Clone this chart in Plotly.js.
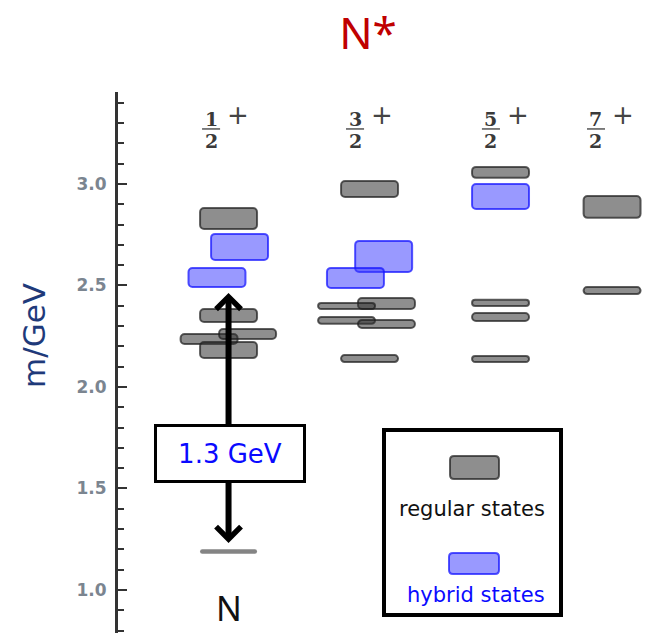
<!DOCTYPE html>
<html>
<head>
<meta charset="utf-8">
<script src="https://cdn.plot.ly/plotly-3.0.1.min.js"></script>
<style>html,body{margin:0;padding:0;background:#fff;}#chart{width:672px;height:633px;}</style>
</head>
<body>
<div id="chart"></div>
<script>
// ---- data ----
const colLabels = ['1/2+', '3/2+', '5/2+', '7/2+'];
const colNumer = ['1', '3', '5', '7'];
const colDenom = ['2', '2', '2', '2'];
const colParity = ['+', '+', '+', '+'];
const colX = [1, 2, 2.929, 3.72];
const labelX = [0.876, 1.897, 2.861, 3.606];

// regular states: column index, lateral offset, mass (GeV), band height (GeV)
const regCol    = [0, 0, 0, 0, 0, 1, 1, 1, 1, 1, 1, 2, 2, 2, 2, 3, 3];
const regOffset = [0, 0, -0.138, 0.135, 0, 0, 0.12, -0.163, -0.163, 0.12, 0, 0, 0, 0, 0, 0, 0];
const regMass   = [2.830, 2.352, 2.236, 2.261, 2.182, 2.975, 2.411, 2.399, 2.328, 2.310, 2.140, 3.057, 2.414, 2.345, 2.138, 2.887, 2.475];
const regSpread = [0.103, 0.064, 0.049, 0.049, 0.079, 0.079, 0.054, 0.030, 0.034, 0.039, 0.034, 0.054, 0.030, 0.039, 0.030, 0.108, 0.034];

// hybrid states
const hybCol    = [0, 0, 1, 1, 2];
const hybOffset = [0.078, -0.082, 0.1, -0.1, 0];
const hybMass   = [2.690, 2.539, 2.643, 2.537, 2.938];
const hybSpread = [0.128, 0.094, 0.153, 0.099, 0.123];

// nucleon ground state
const nucMass = [1.190];
const nucSpread = [0.022];
const gapLabel = '1.3 GeV';

// ---- geometry helpers ----
const W = 672, H = 633, ML = 118, MT = 92;
const PW = W - ML, PH = H - MT;
const pxX = p => (p - ML) / PW;
const pxY = p => (H - p) / PH;
const boxW = 0.404;

function barTrace(cols, offs, mass, spread, fill, line, lw) {
  return {
    type: 'bar',
    x: cols.map((c, i) => colX[c] + offs[i]),
    y: spread,
    base: mass.map((m, i) => m - spread[i] / 2),
    width: cols.map(() => boxW),
    marker: {color: fill, line: {color: line, width: lw}, cornerradius: 4},
    hoverinfo: 'skip'
  };
}

const traces = [
  barTrace(regCol, regOffset, regMass, regSpread, 'rgba(50,50,50,0.55)', 'rgba(30,30,30,0.7)', 2),
  barTrace(hybCol, hybOffset, hybMass, hybSpread, 'rgba(60,60,255,0.52)', 'rgba(20,20,255,0.72)', 2),
  barTrace([0], [0], nucMass, nucSpread, 'rgba(80,80,80,0.7)', 'rgba(80,80,80,0)', 0)
];

function roundRect(x0, y0, x1, y1, r) {
  const P = (x, y) => pxX(x) + ',' + pxY(y);
  return 'M' + P(x0 + r, y0) + ' L' + P(x1 - r, y0) + ' Q' + P(x1, y0) + ' ' + P(x1, y0 + r) +
    ' L' + P(x1, y1 - r) + ' Q' + P(x1, y1) + ' ' + P(x1 - r, y1) +
    ' L' + P(x0 + r, y1) + ' Q' + P(x0, y1) + ' ' + P(x0, y1 - r) +
    ' L' + P(x0, y0 + r) + ' Q' + P(x0, y0) + ' ' + P(x0 + r, y0) + ' Z';
}

const shapes = [];
const annotations = [];
const fracBar = 3.271;

colLabels.forEach((lab, i) => {
  shapes.push({type: 'line', xref: 'x', yref: 'y', x0: labelX[i] - 0.064, x1: labelX[i] + 0.064,
    y0: fracBar, y1: fracBar, line: {color: '#555', width: 1.5}});
  annotations.push({xref: 'x', yref: 'y', x: labelX[i], y: fracBar, xanchor: 'center', yanchor: 'bottom', yshift: -3,
    text: colNumer[i], showarrow: false, font: {family: 'DejaVu Serif', size: 19, color: '#3a3a3a', weight: 'bold'}});
  annotations.push({xref: 'x', yref: 'y', x: labelX[i], y: fracBar, xanchor: 'center', yanchor: 'top', yshift: 1,
    text: colDenom[i], showarrow: false, font: {family: 'DejaVu Serif', size: 19, color: '#3a3a3a', weight: 'bold'}});
  annotations.push({xref: 'x', yref: 'y', x: labelX[i] + 0.19, y: 3.34, xanchor: 'center', yanchor: 'middle',
    text: colParity[i], showarrow: false, font: {family: 'DejaVu Sans', size: 26, color: '#444'}});
});

// double arrow between nucleon and first hybrid
annotations.push({xref: 'x', yref: 'y', axref: 'x', ayref: 'y', x: colX[0], y: 2.463, ax: colX[0], ay: 1.222,
  text: ' ', font: {size: 1}, showarrow: true, arrowhead: 4, startarrowhead: 4, arrowside: 'end+start',
  arrowwidth: 6, arrowsize: 0.8, startarrowsize: 0.8, arrowcolor: '#000', standoff: 0, startstandoff: 0});
// gap label
annotations.push({xref: 'x', yref: 'y', x: colX[0] + 0.01, y: 1.672, xanchor: 'center', yanchor: 'middle',
  text: gapLabel, showarrow: false,
  bgcolor: '#fff', bordercolor: '#000', borderwidth: 3, width: 144, height: 51,
  font: {family: 'DejaVu Sans', size: 26, color: '#0a0aff'}});
// N label (kept fully inside the page)
annotations.push({xref: 'x', yref: 'paper', x: colX[0], y: 0, xanchor: 'center', yanchor: 'bottom', yshift: 0,
  text: 'N', showarrow: false, font: {family: 'Noto Sans', size: 34, color: '#111'}});
// y-axis label
annotations.push({xref: 'paper', yref: 'paper', x: pxX(34), y: pxY(336), xanchor: 'center', yanchor: 'middle',
  text: 'm/GeV', textangle: -90, showarrow: false, font: {family: 'DejaVu Sans', size: 31, color: '#1f3a7a'}});

// legend box
shapes.push({type: 'rect', xref: 'paper', yref: 'paper', x0: pxX(384), x1: pxX(561), y0: pxY(430), y1: pxY(615),
  line: {color: '#000', width: 4}, fillcolor: '#fff'});
shapes.push({type: 'path', xref: 'paper', yref: 'paper', path: roundRect(450, 456, 499, 479, 4),
  fillcolor: 'rgba(50,50,50,0.55)', line: {color: 'rgba(30,30,30,0.7)', width: 2}});
shapes.push({type: 'path', xref: 'paper', yref: 'paper', path: roundRect(449, 553, 499, 574, 4),
  fillcolor: 'rgba(60,60,255,0.52)', line: {color: 'rgba(20,20,255,0.72)', width: 2}});
annotations.push({xref: 'paper', yref: 'paper', x: pxX(472), y: pxY(509), xanchor: 'center', yanchor: 'middle',
  text: 'regular states', showarrow: false, font: {family: 'DejaVu Sans', size: 21, color: '#111'}});
annotations.push({xref: 'paper', yref: 'paper', x: pxX(476), y: pxY(595), xanchor: 'center', yanchor: 'middle',
  text: 'hybrid states', showarrow: false, font: {family: 'DejaVu Sans', size: 21, color: '#0a0aff'}});

const layout = {
  width: W, height: H,
  margin: {l: ML, r: 0, t: MT, b: 0, pad: 0},
  paper_bgcolor: '#fff', plot_bgcolor: '#fff',
  showlegend: false,
  barmode: 'overlay',
  title: {text: 'N*', x: 368 / W, xref: 'container', xanchor: 'center', y: 1 - 34 / H, yref: 'container', yanchor: 'middle',
    font: {family: 'Noto Sans', size: 44, color: '#c00000'}},
  xaxis: {range: [0.216, 0.216 + PW / 141], visible: false, fixedrange: true},
  yaxis: {range: [0.788, 3.453], tick0: 0, dtick: 0.5, tickformat: '.1f',
    ticks: 'inside', ticklen: 9, tickwidth: 2, tickcolor: '#333',
    showline: true, linecolor: '#333', linewidth: 3, showgrid: false, zeroline: false,
    ticklabelstandoff: 5,
    tickfont: {family: 'DejaVu Sans', size: 17, color: '#7b8590', weight: 'bold'},
    minor: {dtick: 0.1, tick0: 0, ticks: 'inside', ticklen: 6, tickwidth: 2, tickcolor: '#333', showgrid: false},
    fixedrange: true},
  shapes: shapes,
  annotations: annotations
};

Plotly.newPlot('chart', traces, layout, {displayModeBar: false, staticPlot: true});
</script>
</body>
</html>
